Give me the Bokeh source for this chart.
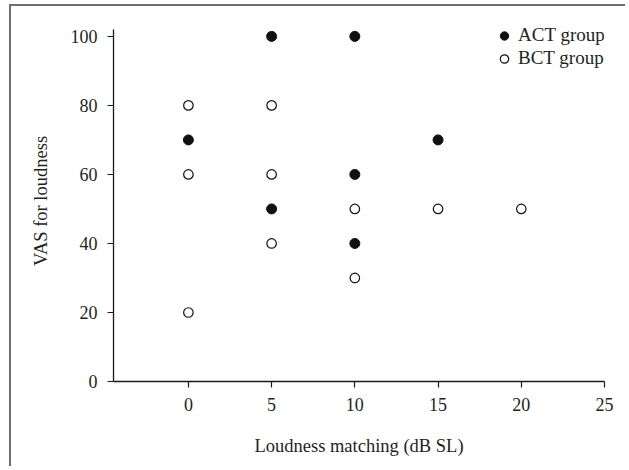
from bokeh.plotting import figure
from bokeh.models import Range1d, FixedTicker, Legend, LegendItem
from bokeh.embed import file_html
from bokeh.resources import INLINE

# Data
act_x = [0, 5, 5, 10, 10, 10, 15]
act_y = [70, 100, 50, 100, 60, 40, 70]
bct_x = [0, 0, 0, 5, 5, 5, 10, 10, 15, 20]
bct_y = [80, 60, 20, 80, 60, 40, 50, 30, 50, 50]
x_ticks = [0, 5, 10, 15, 20, 25]
y_ticks = [0, 20, 40, 60, 80, 100]

FONT = "Liberation Serif"

p = figure(width=616, height=462, output_backend="svg", toolbar_location=None,
           x_range=Range1d(-4.5, 25), y_range=Range1d(0, 104.6),
           min_border_left=102, min_border_right=23, min_border_top=14, min_border_bottom=87)
p.styles = {"border-top": "2px solid #6e6e6e", "border-left": "2px solid #6e6e6e",
            "margin-left": "9px", "margin-top": "4px"}
p.outline_line_color = None
p.xgrid.grid_line_color = None
p.ygrid.grid_line_color = None
p.background_fill_color = "white"
p.border_fill_color = "white"

for ax in (p.xaxis[0], p.yaxis[0]):
    ax.axis_line_color = "#1a1a1a"
    ax.axis_line_width = 1.3
    ax.major_tick_line_color = "#1a1a1a"
    ax.major_tick_line_width = 1.2
    ax.major_tick_out = 6
    ax.major_tick_in = 0
    ax.minor_tick_line_color = None
    ax.major_label_text_font = FONT
    ax.major_label_text_font_size = "18px"
    ax.major_label_text_color = "#231f20"
    ax.axis_label_text_font = FONT
    ax.axis_label_text_font_size = "18.5px"
    ax.axis_label_text_font_style = "normal"
    ax.axis_label_text_color = "#231f20"

p.yaxis.bounds = (0, 102)
p.xaxis.ticker = FixedTicker(ticks=x_ticks)
p.yaxis.ticker = FixedTicker(ticks=y_ticks)
p.xaxis.major_label_standoff = 10
p.yaxis.major_label_standoff = 10
p.xaxis.axis_label = "Loudness matching (dB SL)"
p.yaxis.axis_label = "VAS for loudness"
p.xaxis.axis_label_standoff = 22
p.yaxis.axis_label_standoff = 17

r_act = p.scatter(act_x, act_y, marker="circle", size=10, fill_color="#111111",
                  line_color="#111111", line_width=1)
r_bct = p.scatter(bct_x, bct_y, marker="circle", size=9.5, fill_color="white",
                  line_color="#111111", line_width=1.2)

legend = Legend(items=[LegendItem(label="ACT group", renderers=[r_act]),
                       LegendItem(label="BCT group", renderers=[r_bct])],
                location=(380, 312), margin=0, padding=0, spacing=1,
                border_line_color=None, background_fill_alpha=0,
                label_text_font=FONT, label_text_font_size="19px", label_text_color="#231f20",
                glyph_width=22, glyph_height=21, label_height=21, label_standoff=3)
p.add_layout(legend)

open("out.html", "w").write(file_html(p, INLINE))
